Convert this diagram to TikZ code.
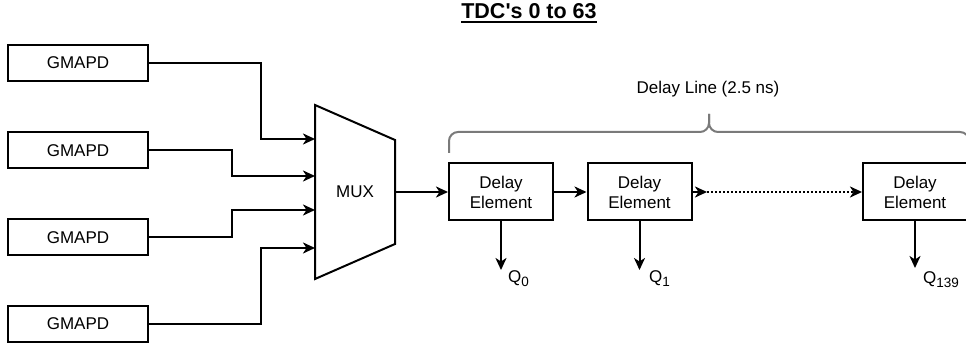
\documentclass[tikz,border=0pt]{standalone}
\usepackage{fontspec}
\setmainfont{Liberation Sans}
\usetikzlibrary{arrows.meta}
\definecolor{bracegray}{HTML}{7A7A7A}
\newcommand\tapidx[1]{\raisebox{-4pt}{\fontsize{13.5}{15}\selectfont #1}}
\tikzset{
  line/.style={line width=2pt, draw=black},
  arr/.style={line, -{Stealth[length=12pt,width=11pt,inset=3.5pt]}},
  blk/.style={line, fill=white, rectangle, inner sep=0pt, align=center,
              font=\fontsize{17}{20}\selectfont},
  src/.style={blk, minimum width=140pt, minimum height=36pt},
  delay/.style={blk, minimum width=104pt, minimum height=57pt},
  lbl/.style={inner sep=0pt, font=\fontsize{17}{20}\selectfont},
  bracestyle/.style={line width=2pt, draw=bracegray, rounded corners=9pt}
}
\begin{document}
\begin{tikzpicture}[x=1pt, y=-1pt]
\useasboundingbox (0,0) rectangle (966,347);

% title
\node[inner sep=0pt, font=\fontsize{21.5}{24}\selectfont\bfseries] (title) at (529,11) {TDC\textquotesingle s 0 to 63};
\draw[line width=2pt] (title.west |- 0,22) -- (title.east |- 0,22);

% detector inputs
\node[src] (g1) at (78,63)    {GMAPD};
\node[src] (g2) at (78,150.5) {GMAPD};
\node[src] (g3) at (78,237.5) {GMAPD};
\node[src] (g4) at (78,323.5) {GMAPD};

% multiplexer
\draw[line, line join=miter] (315,105) -- (395,140) -- (395,244) -- (315,279) -- cycle;
\node[lbl] (mux) at (355,192) {MUX};
\coordinate (m1) at (315,139);
\coordinate (m2) at (315,176);
\coordinate (m3) at (315,210);
\coordinate (m4) at (315,248);
\coordinate (mo) at (395,192);
\coordinate (ka) at (261,0);
\coordinate (kb) at (232,0);

\draw[arr] (g1.east) -| (ka |- m1) -- (m1);
\draw[arr] (g2.east) -| (kb |- m2) -- (m2);
\draw[arr] (g3.east) -| (kb |- m3) -- (m3);
\draw[arr] (g4.east) -| (ka |- m4) -- (m4);

% delay line
\node[delay] (d1) at (501,192) {Delay\\Element};
\node[delay] (d2) at (639.5,192) {Delay\\Element};
\node[delay] (d3) at (915,192) {Delay\\Element};
\coordinate (dc) at (707,192);

\draw[arr] (mo) -- (d1.west);
\draw[arr] (d1.east) -- (d2.west);
\draw[arr] (d2.east) -- (dc);
\draw[arr, dash pattern=on 2pt off 2pt] (dc) -- (d3.west);

% taps
\node[lbl, anchor=west] (q0) at (508,279) {Q\tapidx{0}};
\node[lbl, anchor=west] (q1) at (649,279) {Q\tapidx{1}};
\node[lbl, anchor=west] (q2) at (923,280) {Q\tapidx{139}};
\draw[arr] (d1.south) -- (d1.south |- 0,270);
\draw[arr] (d2.south) -- (d2.south |- 0,270);
\draw[arr] (d3.south) -- (d3.south |- 0,268);

% brace over the delay elements
\draw[bracestyle] (449,153) -- (449,132) -- (709,132) -- (709,114);
\draw[bracestyle] (709,114) -- (709,132) -- (969,132) -- (969,153);
\node[lbl] (dl) at (708,89) {Delay Line (2.5 ns)};
\end{tikzpicture}
\end{document}
